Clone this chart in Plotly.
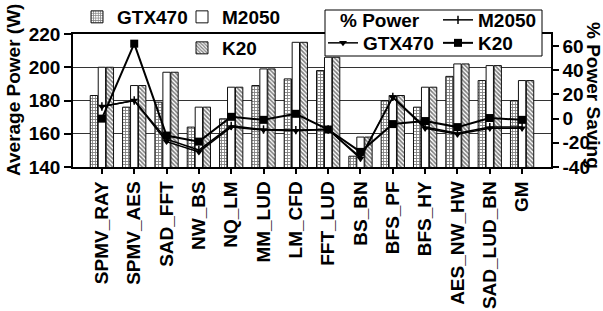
import plotly.graph_objects as go

categories = ["SPMV_RAY", "SPMV_AES", "SAD_FFT", "NW_BS", "NQ_LM", "MM_LUD", "LM_CFD",
              "FFT_LUD", "BS_BN", "BFS_PF", "BFS_HY", "AES_NW_HW", "SAD_LUD_BN", "GM"]

# Average power (W)
gtx470_power = [183, 176, 179, 164, 169, 189, 193, 198, 146.5, 180, 176, 194.5, 192, 180]
m2050_power = [200, 189, 197, 176, 188, 199, 215, 206, 158, 183, 188, 202, 201, 192]
k20_power = [200, 189, 197, 176, 188, 199, 215, 206, 158, 183, 188, 202, 201, 192]

# % power saving
m2050_saving = [10, 15, -17, -26, -6, -9, -9.5, -9, -32, 18, -7, -12, -7, -7]
gtx470_saving = [10, 15, -19, -27.5, -7, -9.5, -10, -9, -33, 17.5, -8, -13, -8, -8]
k20_saving = [0, 62, -14, -19, 1.5, -1, 4, -9, -27.5, -4.5, -2, -7, 0.5, -1]

left_ticks = [140, 160, 180, 200, 220]
right_ticks = [-40, -20, 0, 20, 40, 60]
right_ticktext = ["-40", "-20", "0", "20", "40", "60"]

FONT = "Liberation Sans"
W, H = 603, 311
L, R, T, B = 73, 52, 34, 144
PW, PH = W - L - R, H - T - B

fig = go.Figure()

bar_line = dict(color="#111111", width=1)
fig.add_trace(go.Bar(x=categories, y=gtx470_power, name="GTX470", legend="legend",
                     marker=dict(color="white", line=bar_line,
                                 pattern=dict(shape="+", size=3, solidity=0.5,
                                              fgcolor="black", bgcolor="white"))))
fig.add_trace(go.Bar(x=categories, y=m2050_power, name="M2050", legend="legend2",
                     marker=dict(color="white", line=bar_line)))
fig.add_trace(go.Bar(x=categories, y=k20_power, name="K20", legend="legend3",
                     marker=dict(color="white", line=bar_line,
                                 pattern=dict(shape="\\", size=3, solidity=0.55,
                                              fgcolor="black", bgcolor="white"))))

fig.add_trace(go.Scatter(x=categories, y=m2050_saving, name="M2050", yaxis="y2",
                         legend="legend4", mode="lines+markers",
                         line=dict(color="black", width=1.5),
                         marker=dict(symbol="line-ns", size=6, color="black",
                                     line=dict(color="black", width=1.5))))
fig.add_trace(go.Scatter(x=categories, y=gtx470_saving, name="GTX470", yaxis="y2",
                         legend="legend5", mode="lines+markers",
                         line=dict(color="black", width=1.5),
                         marker=dict(symbol="triangle-down", size=7, color="black")))
fig.add_trace(go.Scatter(x=categories, y=k20_saving, name="K20", yaxis="y2",
                         legend="legend6", mode="lines+markers",
                         line=dict(color="black", width=2),
                         marker=dict(symbol="square", size=8, color="black")))


def px_x(px):
    return (px - L) / PW


def px_y(py):
    return 1 - (py - T) / PH


def leg(xpx, ypx):
    return dict(xref="paper", yref="paper", x=px_x(xpx), y=px_y(ypx),
                xanchor="left", yanchor="middle", bgcolor="rgba(0,0,0,0)",
                font=dict(family=FONT, size=19, color="black", weight="bold"),
                itemwidth=30, tracegroupgap=0, borderwidth=0)


def note(text, xpx, ypx, angle=0, xanchor="center"):
    return dict(text=text, xref="paper", yref="paper", x=px_x(xpx), y=px_y(ypx),
                xanchor=xanchor, yanchor="middle", textangle=angle, showarrow=False,
                font=dict(family=FONT, size=19, weight="bold", color="black"))


fig.update_layout(
    width=W, height=H,
    margin=dict(l=L, r=R, t=T, b=B, autoexpand=False),
    paper_bgcolor="white", plot_bgcolor="white",
    font=dict(family=FONT, size=18, color="black", weight="bold"),
    barmode="group", bargap=0.26, bargroupgap=0.08,
    showlegend=True,
    legend=leg(77, 17),
    legend2=leg(182, 17),
    legend3=leg(182, 48),
    legend4=leg(438, 20),
    legend5=leg(323, 43),
    legend6=leg(438, 43),
    xaxis=dict(showline=True, linecolor="black", linewidth=1.5, mirror=True,
               ticks="outside", ticklen=5, tickwidth=1.5, tickcolor="black",
               tickangle=-90, tickfont=dict(family=FONT, size=19, weight="bold"),
               showgrid=False, automargin=False),
    yaxis=dict(range=[140, 220], tickvals=left_ticks, showline=True, linecolor="black",
               linewidth=1.5, ticks="outside", ticklen=7, tickwidth=1.5, tickcolor="black",
               showgrid=True, gridcolor="#333333", gridwidth=1, zeroline=False,
               tickfont=dict(family=FONT, size=19, weight="bold"), automargin=False),
    yaxis2=dict(range=[-40, 70], overlaying="y", side="right", tickvals=right_ticks,
                ticktext=right_ticktext, showline=True, linecolor="black", linewidth=1.5,
                ticks="outside", ticklen=6, tickwidth=1.5, tickcolor="black",
                showgrid=False, zeroline=False, automargin=False,
                tickfont=dict(family=FONT, size=19, weight="bold")),
    shapes=[dict(type="rect", xref="paper", yref="paper",
                 x0=px_x(325), x1=px_x(542), y0=px_y(56), y1=px_y(10),
                 line=dict(color="black", width=1), fillcolor="white", layer="above")],
    annotations=[
        note("Average Power (W)", 13, 90, angle=-90),
        note("% Power Saving", 594, 95, angle=90),
        note("% Power", 338, 20, xanchor="left"),
    ],
)

fig.write_html("out.html", config={"displayModeBar": False},
               post_script="document.body.style.margin='0';")
